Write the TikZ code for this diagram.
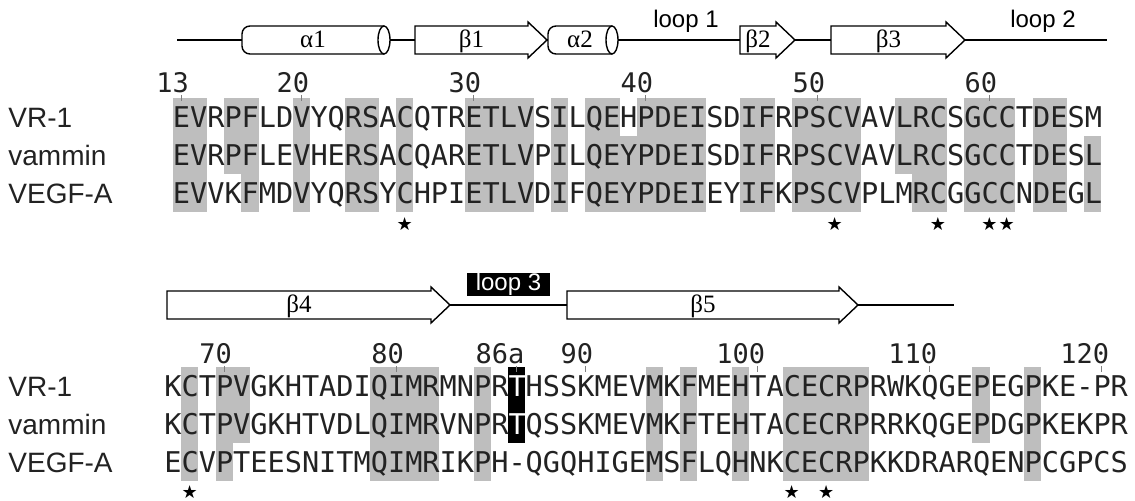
\documentclass[tikz,border=0pt]{standalone}
\usepackage{fontspec}
\setmainfont{Liberation Sans}
\newfontfamily\seqfont{DejaVu Sans Mono}
\newfontfamily\greekfont{Liberation Serif}
\newfontfamily\starfont{DejaVu Sans}
\usepackage{tikz}
\definecolor{idgray}{RGB}{190,190,190}
\definecolor{inkgray}{RGB}{34,34,34}
\tikzset{
  seqrow/.style={inner sep=0pt,anchor=base west,text=inkgray,font=\seqfont\fontsize{14.29}{17}\selectfont},
  rowname/.style={inner sep=0pt,anchor=base west,text=inkgray,font=\fontsize{14}{17}\selectfont},
  resnum/.style={inner sep=0pt,anchor=base east,text=inkgray,font=\seqfont\fontsize{13.5}{16}\selectfont},
  numtick/.style={draw=gray,line width=0.4pt},
  backbone/.style={line width=0.7pt},
  ssbox/.style={draw,fill=white,line width=0.7pt},
  sslabel/.style={inner sep=0pt,anchor=base,font=\greekfont\fontsize{12.5}{15}\selectfont},
  looplabel/.style={inner sep=0pt,anchor=base,font=\fontsize{12}{14}\selectfont},
  loopbox/.style={fill=black,text=white,inner sep=0pt,minimum width=41.5pt,minimum height=11.5pt,font=\fontsize{12}{14}\selectfont},
  cysstar/.style={inner sep=0pt,font=\starfont\fontsize{9}{10}\selectfont}
}
% helix: name, left, right, label
\newcommand{\helixel}[4]{%
  \draw[ssbox,rounded corners=4pt] (#3-6,26) -- (#2,26) -- (#2,54) -- (#3-6,54);
  \draw[ssbox] (#3-6,40) ellipse (6 and 14);
  \node[sslabel] (#1) at ({(#2+#3)/2-3},48) {#4};}
% strand: name, left, tip, label, y
\newcommand{\strandel}[5]{%
  \draw[ssbox] (#2,#5-14) -- (#3-19,#5-14) -- (#3-19,#5-18) -- (#3,#5) -- (#3-19,#5+18) -- (#3-19,#5+14) -- (#2,#5+14) -- cycle;
  \node[sslabel] (#1) at ({(#2+#3-19)/2},{#5+8}) {#4};}

\begin{document}
\begin{tikzpicture}[x=0.5pt,y=-0.5pt]
\useasboundingbox (0,0) rectangle (1135,501);

% secondary structure, residues 13-66
\coordinate (bbA) at (177,40);
\coordinate (bbB) at (1107,40);
\draw[backbone] (bbA) -- (bbB);
\helixel{a1}{242}{390}{α1}
\strandel{b1}{415}{547}{β1}{40}
\helixel{a2}{548}{618}{α2}
\strandel{b2}{740}{795}{β2}{40}
\strandel{b3}{831}{965}{β3}{40}
\node[looplabel] (loopA) at (686,28) {loop 1};
\node[looplabel] (loopB) at (1043,28) {loop 2};

% shading, first block (first col/last col/first row/last row)
\foreach \c/\d/\a/\b in {0/1/1/3,3/4/1/2,4/4/1/3,7/7/1/3,10/11/1/3,13/13/1/3,17/20/1/3,22/22/1/3,
    24/25/1/3,24/30/2/3,27/30/1/3,33/34/1/3,36/39/1/3,42/44/1/2,43/44/1/3,46/48/1/3,50/51/1/3,53/53/2/3}
  \fill[idgray] ({172.5+\c*17.2},{60+38*\a}) rectangle ({172.5+(\d+1)*17.2},{98+38*\b});

\foreach \c/\t in {0/13,7/20,17/30,27/40,37/50,47/60}{
  \node[resnum] (numA\t) at ({172.5+(\c+1)*17.2-0.5},93) {\t};
  \draw[numtick] ({172.5+(\c+0.5)*17.2},95) -- ({172.5+(\c+0.5)*17.2},101);
}

\node[seqrow] (vrA) at (172.5,128) {EVRPFLDVYQRSACQTRETLVSILQEHPDEISDIFRPSCVAVLRCSGCCTDESM};
\node[seqrow] (vamA) at (172.5,166) {EVRPFLEVHERSACQARETLVPILQEYPDEISDIFRPSCVAVLRCSGCCTDESL};
\node[seqrow] (vegA) at (172.5,204) {EVVKFMDVYQRSYCHPIETLVDIFQEYPDEIEYIFKPSCVPLMRCGGCCNDEGL};

\foreach \c in {13,38,44,47,48}
  \node[cysstar] (cysA\c) at ({172.5+(\c+0.5)*17.2},224) {★};

% secondary structure, residues 67-121
\coordinate (bbC) at (450,305);
\coordinate (bbD) at (954,305);
\draw[backbone] (bbC) -- (bbD);
\strandel{b4}{167}{450}{β4}{305}
\strandel{b5}{567}{858}{β5}{305}
\node[loopbox] (loopC) at (508.5,284.5) {loop 3};

% shading, second block
\foreach \c/\d/\a/\b in {1/1/1/3,3/3/1/3,3/4/1/2,12/15/1/3,18/18/1/3,28/28/1/3,30/30/1/3,
    33/33/1/3,36/40/1/3,47/47/1/2,50/50/1/3}
  \fill[idgray] ({164+\c*17.2},{329+38*\a}) rectangle ({164+(\d+1)*17.2},{367+38*\b});
\fill[black] ({164+20*17.2},367) rectangle ({164+21*17.2},443);

\foreach \c/\t in {3/70,13/80,20/86a,24/90,34/100,44/110,54/120}{
  \node[resnum] (numB\t) at ({164+(\c+1)*17.2-0.5},364) {\t};
  \draw[numtick] ({164+(\c+0.5)*17.2},366) -- ({164+(\c+0.5)*17.2},372);
}

\node[seqrow] (vrB) at (164,397) {KCTPVGKHTADIQIMRMNPR\textcolor{white}{T}HSSKMEVMKFMEHTACECRPRWKQGEPEGPKE-PR};
\node[seqrow] (vamB) at (164,435) {KCTPVGKHTVDLQIMRVNPR\textcolor{white}{T}QSSKMEVMKFTEHTACECRPRRKQGEPDGPKEKPR};
\node[seqrow] (vegB) at (164,473) {ECVPTEESNITMQIMRIKPH-QGQHIGEMSFLQHNKCECRPKKDRARQENPCGPCS};

\foreach \c in {1,36,38}
  \node[cysstar] (cysB\c) at ({164+(\c+0.5)*17.2},492) {★};

% row names
\foreach \n [count=\r] in {VR-1,vammin,VEGF-A}{
  \node[rowname] (nameA\r) at (8,{90+38*\r}) {\n};
  \node[rowname] (nameB\r) at (8,{359+38*\r}) {\n};
}
\end{tikzpicture}
\end{document}
